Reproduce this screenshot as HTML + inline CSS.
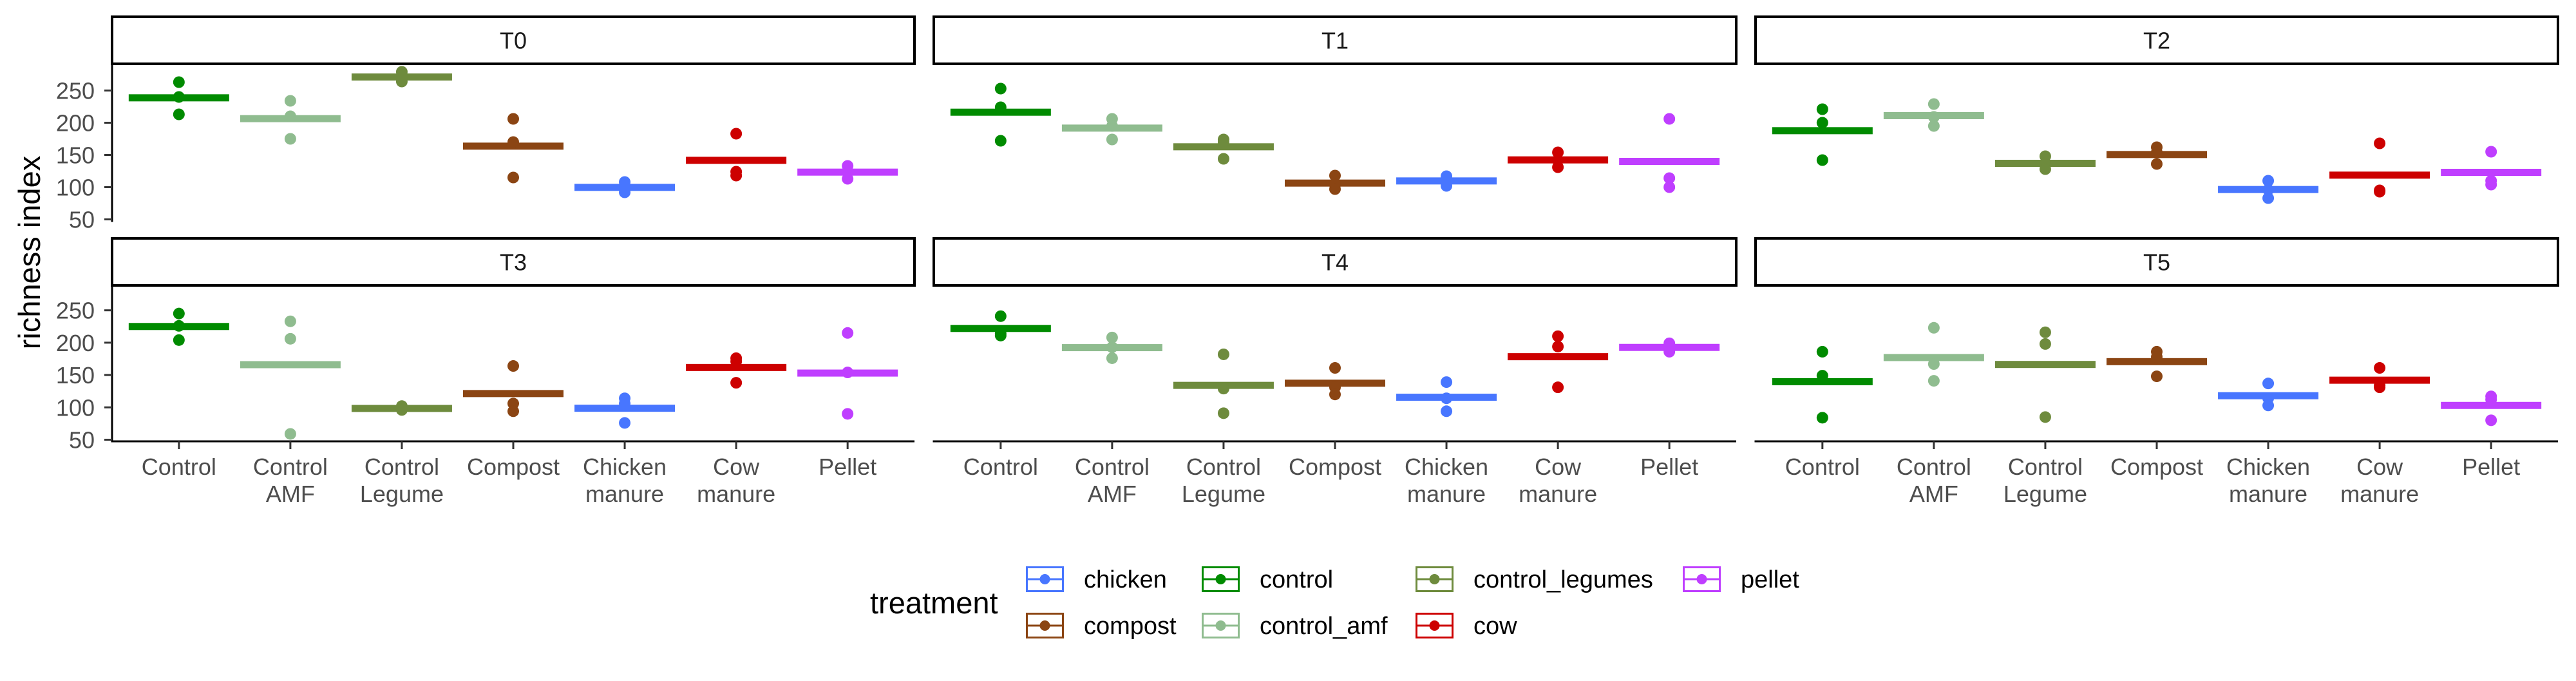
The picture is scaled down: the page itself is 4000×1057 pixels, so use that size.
<!DOCTYPE html>
<html><head><meta charset="utf-8"><style>
html,body{margin:0;padding:0;background:#fff;}
svg{display:block;font-family:"Liberation Sans",Arial,sans-serif;}
</style></head><body>
<svg id="chart" width="4000" height="1057" viewBox="0 0 4000 1057" xmlns="http://www.w3.org/2000/svg"></svg>
<script>
const categories = ["Control","Control AMF","Control Legume","Compost","Chicken manure","Cow manure","Pellet"];
const catLines = [["Control"],["Control","AMF"],["Control","Legume"],["Compost"],["Chicken","manure"],["Cow","manure"],["Pellet"]];
const treatments = ["control","control_amf","control_legumes","compost","chicken","cow","pellet"];
const colors = ["#008B00","#8FBC8F","#6E8B3D","#8B4513","#4876FF","#CD0000","#BF3EFF"];
const panels = ["T0","T1","T2","T3","T4","T5"];
const yTicks = [50,100,150,200,250];
// replicate values per panel, per category
const valuesT0 = [[263,240,213],[234,210,175],[279,270,264],[206,170,115],[108,99,92],[183,124,118],[133,124,113]];
const valuesT1 = [[253,224,172],[206,195,174],[174,170,144],[118,104,97],[117,110,102],[154,142,131],[206,114,100]];
const valuesT2 = [[221,200,142],[229,209,195],[148,135,128],[162,154,136],[110,96,83],[168,95,93],[155,110,104]];
const valuesT3 = [[245,226,204],[233,206,59],[102,97,96],[164,106,94],[114,106,76],[176,171,138],[215,154,90]];
const valuesT4 = [[241,214,211],[208,193,176],[182,129,91],[161,131,120],[139,114,94],[210,194,131],[199,193,186]];
const valuesT5 = [[186,149,84],[223,167,141],[216,198,85],[186,178,148],[137,114,103],[161,134,131],[117,112,80]];
const allValues = [valuesT0,valuesT1,valuesT2,valuesT3,valuesT4,valuesT5];
const legendOrder = [["chicken",4],["compost",3],["control",0],["control_amf",1],["control_legumes",2],["cow",5],["pellet",6]];

const NS="http://www.w3.org/2000/svg";
const svg=document.getElementById("chart");
function mk(tag,attrs,parent){const e=document.createElementNS(NS,tag);for(const k in attrs)e.setAttribute(k,attrs[k]);(parent||svg).appendChild(e);return e;}

const panelW=1246, colX=[174,1450,2726], rowTop=[101,442], stripTop=[26,370], stripH=73, plotH=[242,243];
const yMin=47.5, yMax=289.5;
const step=panelW/7.2;
function xScale(col,i){return colX[col]+step*(0.6+i);}
function yScale(row,v){return rowTop[row]+plotH[row]*(yMax-v)/(yMax-yMin);}

panels.forEach((name,p)=>{
  const row=Math.floor(p/3), col=p%3;
  const g=mk("g",{});
  
  
  const strip=mk("rect",{x:colX[col],y:stripTop[row],width:panelW,height:stripH,fill:"#fff",stroke:"#000","stroke-width":4},g);
  
  
  const st=mk("text",{x:colX[col]+panelW/2,y:stripTop[row]+stripH/2+13,"text-anchor":"middle","font-size":36,fill:"#1a1a1a"},g);
  st.textContent=name;
  
  
  const vals=allValues[p];
  vals.forEach((pts,i)=>{
    const cx=xScale(col,i);
    const mean=pts.reduce((a,b)=>a+b,0)/pts.length;
    const bar=mk("rect",{x:cx-78,y:yScale(row,mean)-5.5,width:156,height:11,fill:colors[i]},g);
    
    
    pts.forEach(v=>{
      const c=mk("circle",{cx:cx,cy:yScale(row,v),r:9,fill:colors[i]},g);
      
      
    });
  });
  if(col===0){
    const ya=mk("line",{x1:colX[col],x2:colX[col],y1:rowTop[row],y2:rowTop[row]+plotH[row]+1.5,stroke:"#000","stroke-width":3},g);
    
    
    yTicks.forEach(t=>{
      const y=yScale(row,t);
      mk("line",{x1:colX[col]-12,x2:colX[col],y1:y,y2:y,stroke:"#333","stroke-width":3},g);
      const tl=mk("text",{x:colX[col]-27,y:y+13,"text-anchor":"end","font-size":36,fill:"#4d4d4d"},g);
      tl.textContent=t;
      
      
    });
  }
  if(row===1){
    const yb=rowTop[row]+plotH[row];
    const xa=mk("line",{x1:colX[col]-1.5,x2:colX[col]+panelW,y1:yb,y2:yb,stroke:"#000","stroke-width":3},g);
    
    
    catLines.forEach((lines,i)=>{
      const cx=xScale(col,i);
      mk("line",{x1:cx,x2:cx,y1:yb,y2:yb+12,stroke:"#333","stroke-width":3},g);
      lines.forEach((ln,k)=>{
        const tl=mk("text",{x:cx,y:737+k*42,"text-anchor":"middle","font-size":36,fill:"#4d4d4d"},g);
        tl.textContent=ln;
        
        
      });
    });
  }
});

const yt=mk("text",{x:0,y:0,transform:"translate(62,392) rotate(-90)","text-anchor":"middle","font-size":47,fill:"#000"});
yt.textContent="richness index";



const lt=mk("text",{x:1351,y:952,"font-size":47,fill:"#000"});
lt.textContent="treatment";


const keyX=[1593,1866,2198,2613], keyY=[879,951];
legendOrder.forEach(([lab,ci],k)=>{
  const col=Math.floor(k/2), row=k%2;
  const x=keyX[col], y=keyY[row];
  const g=mk("g",{});
  
  
  mk("rect",{x:x+1.5,y:y+1.5,width:56,height:37,fill:"#fff",stroke:colors[ci],"stroke-width":3},g);
  mk("line",{x1:x,x2:x+59,y1:y+20,y2:y+20,stroke:colors[ci],"stroke-width":3},g);
  mk("circle",{cx:x+29.5,cy:y+20,r:8,fill:colors[ci]},g);
  const t=mk("text",{x:x+90,y:y+33,"font-size":38,fill:"#000"},g);
  t.textContent=lab;
});
</script>
</body></html>
